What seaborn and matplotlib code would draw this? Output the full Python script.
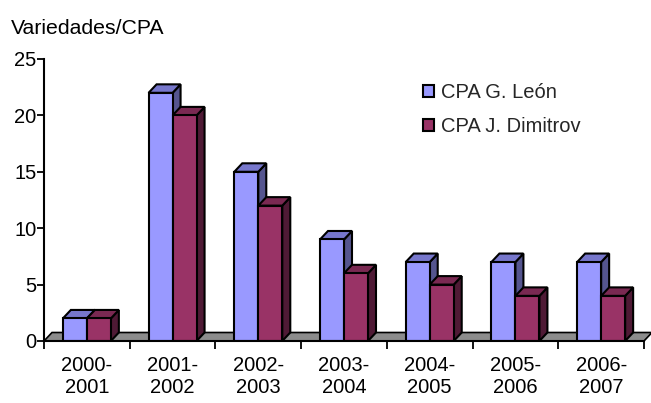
import matplotlib
matplotlib.use("Agg")
import matplotlib.pyplot as plt
import seaborn as sns
import pandas as pd
from matplotlib.patches import Polygon, Patch

periods = ["2000-\n2001", "2001-\n2002", "2002-\n2003", "2003-\n2004",
           "2004-\n2005", "2005-\n2006", "2006-\n2007"]
leon = [2, 22, 15, 9, 7, 7, 7]
dimitrov = [2, 20, 12, 6, 5, 4, 4]
series = ["CPA G. León", "CPA J. Dimitrov"]
y_ticks = [0, 5, 10, 15, 20, 25]

front = ["#9999FF", "#993366"]
topc = ["#7777CC", "#7A2952"]
sidec = ["#55558F", "#4F1A35"]

df = pd.DataFrame({
    "period": periods * 2,
    "value": leon + dimitrov,
    "series": [series[0]] * len(periods) + [series[1]] * len(periods),
})

sns.set_theme(style="white")
plt.rcParams["font.family"] = ["Liberation Sans", "DejaVu Sans"]
FS = 14.5

W, H = 651, 403
fig = plt.figure(figsize=(W / 100, H / 100), dpi=100)
ax_l, ax_r, ax_b, ax_t = 44, 644, 341, 59
ax = fig.add_axes([ax_l / W, 1 - ax_b / H, (ax_r - ax_l) / W, (ax_b - ax_t) / H])

sns.barplot(data=df, x="period", y="value", hue="series", palette=front,
            width=0.56, gap=0, edgecolor="black", linewidth=1.5,
            saturation=1, legend=False, ax=ax, zorder=3)

ax.set_xlim(-0.5, 6.5)
ax.set_ylim(0, 25)

# depth offsets in data units (from pixel sizes)
dx = 8 * 7 / (ax_r - ax_l)
dy = 8.5 * 25 / (ax_b - ax_t)

# floor
floor = Polygon([(-0.5, 0), (6.5, 0), (6.5 + dx, dy), (-0.5 + dx, dy)],
                closed=True, facecolor="#8C8C8C", edgecolor="black",
                linewidth=1.2, zorder=1, clip_on=False)
ax.add_patch(floor)

for i, cont in enumerate(ax.containers):
    for bar in cont:
        x0 = bar.get_x()
        w = bar.get_width()
        h = bar.get_height()
        x1 = x0 + w
        top = Polygon([(x0, h), (x1, h), (x1 + dx, h + dy), (x0 + dx, h + dy)],
                      closed=True, facecolor=topc[i], edgecolor="black",
                      linewidth=1.5, zorder=2 + 0.1 * i, clip_on=False)
        side = Polygon([(x1, 0), (x1 + dx, dy), (x1 + dx, h + dy), (x1, h)],
                       closed=True, facecolor=sidec[i], edgecolor="black",
                       linewidth=1.5, zorder=2 + 0.1 * i, clip_on=False)
        ax.add_patch(side)
        ax.add_patch(top)
        bar.set_zorder(3)

for s in ["top", "right"]:
    ax.spines[s].set_visible(False)
for s in ["left", "bottom"]:
    ax.spines[s].set_color("black")
    ax.spines[s].set_linewidth(1.5)
    ax.spines[s].set_zorder(5)

ax.set_yticks(y_ticks)
ax.set_yticklabels([str(v) for v in y_ticks])
ax.tick_params(axis="y", direction="out", length=5, width=1.3, color="black",
               pad=0.5, labelsize=FS, labelcolor="black", left=True)
ax.set_xticks(range(len(periods)))
ax.set_xticklabels(periods, linespacing=1.15)
ax.tick_params(axis="x", which="major", length=0, pad=11, labelsize=FS,
               labelcolor="black")
ax.set_xticks([k - 0.5 for k in range(len(periods) + 1)], minor=True)
ax.tick_params(axis="x", which="minor", direction="out", length=6, width=1.3,
               color="black", bottom=True)
ax.set_xlabel("")
ax.set_ylabel("")

fig.text(11 / W, 1 - 29 / H, "Variedades/CPA", fontsize=15.3, va="center",
         ha="left", color="black")

handles = [Patch(facecolor=front[k], edgecolor="black", linewidth=1.5)
           for k in range(2)]
leg = ax.legend(handles, series, loc="upper left",
                bbox_to_anchor=(413 / W, 1 - 73 / H),
                bbox_transform=fig.transFigure, frameon=False,
                handlelength=0.55, handleheight=0.55, handletextpad=0.35,
                labelspacing=0.75, fontsize=FS, borderpad=0)

fig.savefig("out.png", dpi=100)
